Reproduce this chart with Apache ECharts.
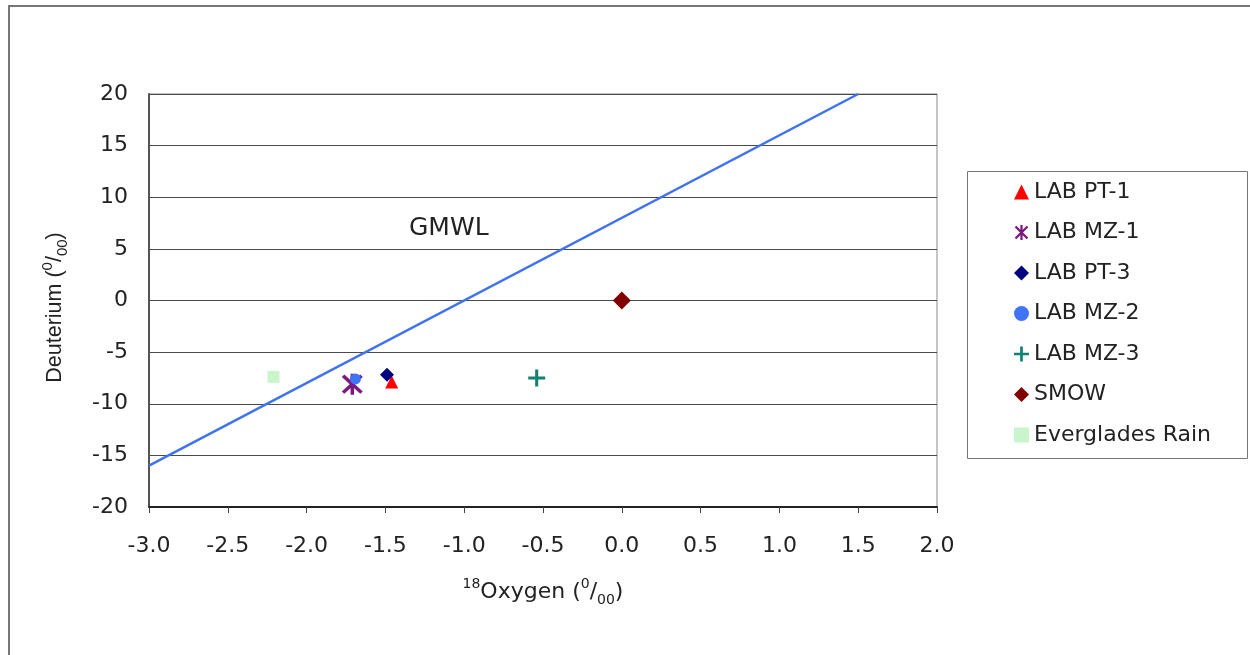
<!DOCTYPE html>
<html>
<head>
<meta charset="utf-8">
<script src="https://cdn.jsdelivr.net/npm/echarts@6/dist/echarts.min.js"></script>
<style>
html,body{margin:0;padding:0;background:#fff;}
#c{width:1250px;height:655px;}
</style>
</head>
<body>
<div id="c"></div>
<script>
// ---- data ----
var seriesNames = ['LAB PT-1', 'LAB MZ-1', 'LAB PT-3', 'LAB MZ-2', 'LAB MZ-3', 'SMOW', 'Everglades Rain'];
var labPT1 = [[-1.46, -7.9]];
var labMZ1 = [[-1.71, -8.1]];
var labPT3 = [[-1.49, -7.2]];
var labMZ2 = [[-1.69, -7.6]];
var labMZ3 = [[-0.54, -7.5]];
var smow = [[0, 0]];
var evergladesRain = [[-2.21, -7.4]];
var gmwl = [[-3, -16], [1.5, 20]];
var xTicks = [-3.0, -2.5, -2.0, -1.5, -1.0, -0.5, 0.0, 0.5, 1.0, 1.5, 2.0];
var yTicks = [-20, -15, -10, -5, 0, 5, 10, 15, 20];

var WIDE = '"DejaVu Sans", Verdana, sans-serif';
var NARROW = '"Liberation Sans", Arial, sans-serif';
var starPath = 'path://M8.5,0 L11.5,0 L11.5,20 L8.5,20 Z M3.1,0.9 L19.1,16.9 L16.9,19.1 L0.9,3.1 Z M19.1,3.1 L3.1,19.1 L0.9,16.9 L16.9,0.9 Z';
var plusPath = 'path://M8.2,0 L11.8,0 L11.8,20 L8.2,20 Z M0,8.2 L20,8.2 L20,11.8 L0,11.8 Z';

var cfg = [
  {name: seriesNames[0], data: labPT1, symbol: 'triangle', size: 13, color: '#ff0000'},
  {name: seriesNames[1], data: labMZ1, symbol: starPath, size: 21, color: '#7a1a80'},
  {name: seriesNames[2], data: labPT3, symbol: 'diamond', size: 14, color: '#000080'},
  {name: seriesNames[3], data: labMZ2, symbol: 'circle', size: 11, color: '#3f74f5'},
  {name: seriesNames[4], data: labMZ3, symbol: plusPath, size: 17, color: '#118272'},
  {name: seriesNames[5], data: smow, symbol: 'diamond', size: 18, color: '#800000'},
  {name: seriesNames[6], data: evergladesRain, symbol: 'rect', size: 12, color: '#c9f5cc'}
];

var series = [{
  name: 'GMWL', type: 'line', data: gmwl, showSymbol: false, symbol: 'none',
  lineStyle: {color: '#3f72f2', width: 2.5}, silent: true, z: 2
}];
cfg.forEach(function (c) {
  series.push({
    name: c.name, type: 'scatter', data: c.data, symbol: c.symbol, symbolSize: c.size,
    itemStyle: {color: c.color, opacity: 1}, z: 3
  });
});

var chart = echarts.init(document.getElementById('c'), null, {renderer: 'canvas'});
chart.setOption({
  backgroundColor: '#ffffff',
  animation: false,
  grid: {left: 149, top: 94, width: 788, height: 413, show: true, borderColor: '#8a8a8a', borderWidth: 1, backgroundColor: 'transparent'},
  xAxis: {
    type: 'value', min: xTicks[0], max: xTicks[xTicks.length - 1], interval: 0.5,
    axisLine: {show: true, onZero: false, lineStyle: {color: '#222', width: 2}},
    axisTick: {show: true, length: 6, lineStyle: {color: '#444'}},
    splitLine: {show: false},
    axisLabel: {fontFamily: WIDE, fontSize: 22, color: '#222', margin: 28, formatter: function (v) { return v.toFixed(1); }},
    name: '{sup|18}{n|Oxygen (}{sup|0}{n|/}{sub|00}{n|)}',
    nameLocation: 'middle', nameGap: 70,
    nameTextStyle: {
      rich: {
        n: {fontFamily: WIDE, fontSize: 22, color: '#222', lineHeight: 30, verticalAlign: 'middle'},
        sup: {fontFamily: WIDE, fontSize: 14, color: '#222', verticalAlign: 'top'},
        sub: {fontFamily: WIDE, fontSize: 14, color: '#222', verticalAlign: 'bottom'}
      }
    }
  },
  yAxis: {
    type: 'value', min: yTicks[0], max: yTicks[yTicks.length - 1], interval: 5,
    axisLine: {show: true, onZero: false, lineStyle: {color: '#555', width: 2}},
    axisTick: {show: false},
    splitLine: {show: true, lineStyle: {color: '#4a4a4a', width: 1}},
    axisLabel: {fontFamily: WIDE, fontSize: 22, color: '#222', margin: 21},
    name: '{n|Deuterium (}{sup|0}{n|/}{sub|00}{n|)}',
    nameLocation: 'middle', nameGap: 79, nameRotate: 90,
    nameTextStyle: {
      padding: [0, 14, 0, 0],
      rich: {
        n: {fontFamily: NARROW, fontSize: 21.5, color: '#222', lineHeight: 30, verticalAlign: 'middle'},
        sup: {fontFamily: NARROW, fontSize: 15, color: '#222', verticalAlign: 'top'},
        sub: {fontFamily: NARROW, fontSize: 15, color: '#222', verticalAlign: 'bottom'}
      }
    }
  },
  legend: {
    data: seriesNames, orient: 'vertical', left: 1009, top: 176,
    itemWidth: 15, itemHeight: 15, itemGap: 18.5,
    textStyle: {fontFamily: WIDE, fontSize: 22, color: '#222', lineHeight: 22},
    selectedMode: false
  },
  graphic: [
    {type: 'rect', shape: {x: 9, y: 6, width: 1400, height: 800}, style: {fill: 'none', stroke: '#777', lineWidth: 2}, silent: true, z: -1},
    {type: 'rect', shape: {x: 967.5, y: 171.5, width: 280, height: 287}, style: {fill: '#fff', stroke: '#777', lineWidth: 1}, silent: true, z: -1},
    {type: 'text', left: 409, top: 216, style: {text: 'GMWL', font: '25px ' + WIDE, fill: '#222'}, silent: true}
  ],
  series: series
});
</script>
</body>
</html>
